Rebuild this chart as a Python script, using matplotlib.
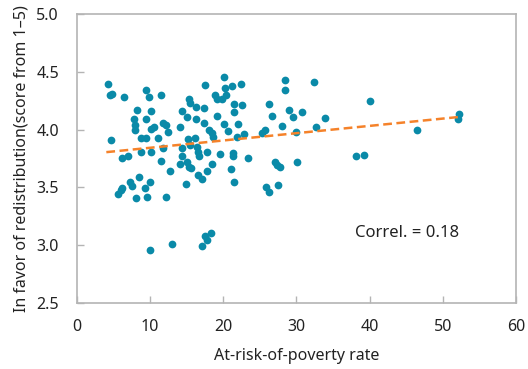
import numpy as np
import matplotlib
matplotlib.use("Agg")
import matplotlib.pyplot as plt

plt.rcParams['font.family'] = ['Noto Sans', 'DejaVu Sans']

# at-risk-of-poverty rate (x) and support for redistribution (y)
poverty = [
    4.23, 4.44, 4.74, 6.42, 4.69, 6.11, 7.01, 5.64, 5.97, 6.11, 7.24, 7.51,
    8.13, 7.83, 7.95, 7.96, 8.70, 9.47, 9.47, 9.80, 10.11, 9.49, 10.15, 10.45,
    11.00, 11.48, 11.79, 12.12, 12.39, 8.72, 10.11, 11.79, 11.48, 12.70, 8.40, 9.95,
    9.32, 8.10, 9.52, 12.12, 9.95, 13.01, 14.07, 14.39, 14.99, 15.30, 15.44, 16.23,
    16.23, 17.35, 17.49, 17.32, 18.07, 18.40, 18.58, 15.16, 16.12, 15.44, 16.33, 14.34,
    14.28, 14.07, 14.99, 15.30, 15.64, 16.53, 16.67, 17.73, 18.40, 17.76, 16.53, 17.04,
    14.85, 17.14, 17.46, 17.83, 18.27, 20.12, 20.29, 21.17, 22.43, 18.85, 19.13, 19.81,
    20.40, 21.52, 22.51, 21.49, 19.15, 20.15, 21.95, 20.67, 21.93, 22.79, 19.49, 21.31,
    21.34, 23.36, 21.04, 21.48, 26.26, 26.71, 25.34, 25.68, 28.07, 28.42, 28.42, 29.03,
    29.47, 29.97, 30.70, 32.38, 33.92, 32.72, 27.01, 27.32, 27.80, 30.08, 25.86, 26.26,
    27.46, 40.12, 38.11, 39.21, 46.42, 52.21, 52.10,
]
redistribution = [
    4.40, 4.30, 4.31, 4.28, 3.91, 3.75, 3.77, 3.44, 3.48, 3.49, 3.55, 3.51,
    4.17, 4.09, 4.04, 4.00, 3.93, 3.93, 4.34, 4.28, 4.16, 4.09, 4.01, 4.02,
    3.93, 4.30, 4.06, 4.04, 3.98, 3.81, 3.81, 3.84, 3.73, 3.64, 3.59, 3.55,
    3.49, 3.41, 3.42, 3.42, 2.96, 3.01, 4.02, 4.16, 4.11, 4.27, 4.23, 4.20,
    4.09, 4.19, 4.39, 4.06, 4.00, 3.97, 3.94, 3.92, 3.93, 3.87, 3.85, 3.84,
    3.77, 3.70, 3.72, 3.68, 3.67, 3.81, 3.77, 3.81, 3.70, 3.64, 3.61, 3.57,
    3.53, 2.99, 3.08, 3.04, 3.10, 4.46, 4.36, 4.38, 4.40, 4.30, 4.27, 4.27,
    4.30, 4.22, 4.21, 4.15, 4.12, 4.05, 4.05, 3.99, 3.94, 3.96, 3.79, 3.80,
    3.77, 3.75, 3.66, 3.55, 4.22, 4.12, 3.97, 4.00, 4.03, 4.43, 4.34, 4.17,
    4.11, 3.98, 4.15, 4.41, 4.10, 4.02, 3.72, 3.69, 3.68, 3.72, 3.50, 3.46,
    3.52, 4.25, 3.77, 3.78, 4.00, 4.14, 4.09,
]

# linear trend line end points
trend_x = [4.0, 52.2]
trend_y = [3.805, 4.11]

grey = '#b4b4b4'
txt = '#222222'

fig = plt.figure(figsize=(5.28, 3.69), dpi=100)
ax = fig.add_axes([0.146, 0.180, 0.831, 0.781])

ax.scatter(poverty, redistribution, s=31, color='#0a8aa8', linewidths=0, zorder=2)
ax.plot(trend_x, trend_y, color='#f5822a', lw=1.8, ls=(0, (3.5, 1.8)), zorder=3)

ax.text(38.0, 3.105, 'Correl. = 0.18', fontsize=12, color=txt, va='center')

ax.set_xlim(0, 60)
ax.set_ylim(2.5, 5.0)
ax.set_xticks(range(0, 61, 10))
ax.set_yticks(np.arange(2.5, 5.01, 0.5))
ax.set_yticklabels([f'{v:.1f}' for v in np.arange(2.5, 5.01, 0.5)])

for s in ax.spines.values():
    s.set_color(grey)
    s.set_linewidth(1.2)
ax.tick_params(direction='in', length=5, width=1, color=grey,
               labelsize=11.5, labelcolor=txt)
ax.tick_params(axis='x', pad=12)
ax.tick_params(axis='y', pad=13)

ax.set_xlabel('At-risk-of-poverty rate', fontsize=11.5, color=txt, labelpad=9)
ax.set_ylabel('In favor of redistribution(score from 1\u20135)', fontsize=11.5,
              color=txt, labelpad=5)

fig.savefig('out.png', dpi=100)
